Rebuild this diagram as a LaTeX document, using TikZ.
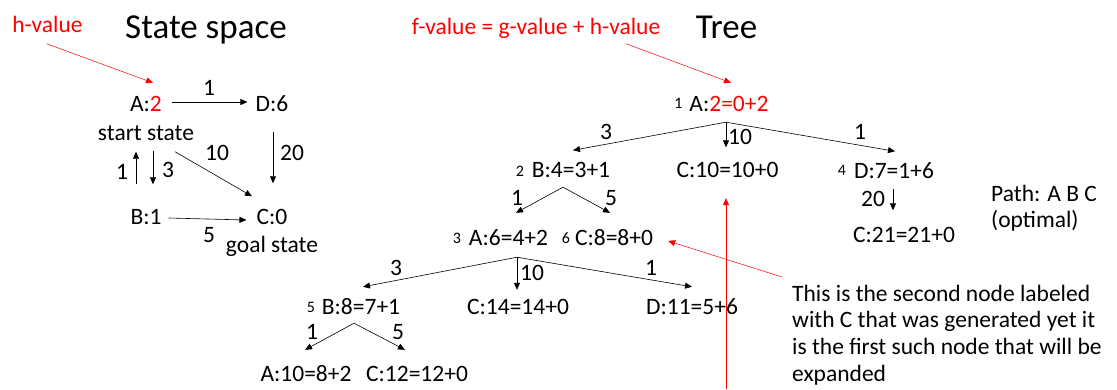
\documentclass[tikz,border=0pt]{standalone}
\usepackage{fontspec}
\setmainfont{Carlito}
\usetikzlibrary{arrows.meta}

\begin{document}
\begin{tikzpicture}[x=1pt,y=-1pt,
  lab/.style={font=\fontsize{23.5}{28}\selectfont, inner sep=0pt, text height=15pt, text depth=0pt},
  ttl/.style={font=\fontsize{35}{42}\selectfont, inner sep=0pt, text height=22.5pt, text depth=0pt},
  ord/.style={font=\fontsize{16}{19}\selectfont, inner sep=0pt, text height=10pt, text depth=0pt},
  note/.style={font=\fontsize{23.5}{26.7}\selectfont, inner sep=0pt, align=left, anchor=north west},
  arr/.style={-{Triangle[length=7pt,width=6pt]}, line width=0.6pt},
  redarr/.style={-{Triangle[length=7pt,width=6pt]}, red, line width=0.5pt}]
\useasboundingbox (0,0) rectangle (1117,389);

\node [ttl] (ssTitle) at (206,27.5) {State space};
\node [ttl] (treeTitle) at (726.5,27) {Tree};
\node [lab,red] (hval) at (47.5,24.5) {h-value};
\node [lab,red] (fval) at (536,26.5) {f-value = g-value + h-value};

\node [lab] (sA) at (146,104) {A:\textcolor{red}{2}};
\node [lab] (sD) at (272,104) {D:6};
\node [lab] (sStart) at (146,133) {start state};
\node [lab] (sB) at (146,217) {B:1};
\node [lab] (sC) at (272,217) {C:0};
\node [lab] (sGoal) at (272,245) {goal state};

\node [lab] (lAD) at (209,88) {1};
\node [lab] (lBA) at (122,172) {1};
\node [lab] (lAB) at (168,170) {3};
\node [lab] (lAC) at (217,153) {10};
\node [lab] (lDC) at (292,153) {20};
\node [lab] (lBC) at (209,235) {5};

\draw [arr] ([shift={(10,-2)}]sA.east) -- ([shift={(-8,-2)}]sD.west);
\draw [arr] ([shift={(-10,-25)}]sB.north) -- ([shift={(-10,11)}]sStart.south);
\draw [arr] ([shift={(7,10)}]sStart.south) -- ([shift={(7,-25)}]sB.north);
\draw [arr] ([shift={(29,11)}]sStart.south) -- ([shift={(-20,-13)}]sC.north);
\draw [arr] ([shift={(1,20)}]sD.south) -- ([shift={(1,-26)}]sC.north);
\draw [arr] ([shift={(7,1)}]sB.east) -- ([shift={(-10,3)}]sC.west);
\draw [redarr] ([shift={(-1,11.5)}]hval.south) -- ([shift={(7,-13.5)}]sA.north);

\node [lab] (t1) at (729,103.5) {A:\textcolor{red}{2=0+2}};
\node [lab] (t2) at (571,170) {B:4=3+1};
\node [lab] (t3) at (727.5,170) {C:10=10+0};
\node [lab] (t4) at (894,171) {D:7=1+6};
\node [lab] (t5) at (904,235) {C:21=21+0};
\node [lab] (t6) at (508.5,237.5) {A:6=4+2};
\node [lab] (t7) at (614,237.5) {C:8=8+0};
\node [lab] (t8) at (361,307) {B:8=7+1};
\node [lab] (t9) at (518,307) {C:14=14+0};
\node [lab] (t10) at (692,307) {D:11=5+6};
\node [lab] (t11) at (306,373.5) {A:10=8+2};
\node [lab] (t12) at (417,373.5) {C:12=12+0};

\node [ord] (o1) at (678.5,103.5) {1};
\node [ord] (o2) at (520,171.5) {2};
\node [ord] (o4) at (842,170.5) {4};
\node [ord] (o3) at (457,238) {3};
\node [ord] (o6) at (566,238) {6};
\node [ord] (o5) at (311,307) {5};

\node [lab] (l12) at (606,132) {3};
\node [lab] (l13) at (740,137) {10};
\node [lab] (l14) at (860,132) {1};
\node [lab] (l45) at (873,199) {20};
\node [lab] (l26) at (517,198) {1};
\node [lab] (l27) at (611,198) {5};
\node [lab] (l68) at (396,268) {3};
\node [lab] (l69) at (532,273) {10};
\node [lab] (l610) at (651,268) {1};
\node [lab] (l811) at (312,332) {1};
\node [lab] (l812) at (398,332) {5};

\coordinate (r1) at ([shift={(-3,11)}]t1.south);
\draw [arr] (r1) -- ([shift={(2,-12)}]t2.north);
\draw [arr] (r1) -- ([shift={(-1.5,-15)}]t3.north);
\draw [arr] (r1) -- ([shift={(1,-12)}]t4.north);
\draw [arr] ([shift={(-1,10.5)}]t4.south) -- ([shift={(-11,-17)}]t5.north);
\coordinate (r2) at ([shift={(-8,9.5)}]t2.south);
\draw [arr] (r2) -- ([shift={(7.5,-17)}]t6.north);
\draw [arr] (r2) -- ([shift={(-4,-17)}]t7.north);
\coordinate (r6) at ([shift={(8.5,12)}]t6.south);
\draw [arr] (r6) -- ([shift={(2,-12.5)}]t8.north);
\draw [arr] (r6) -- ([shift={(-1,-9.5)}]t9.north);
\draw [arr] (r6) -- ([shift={(0,-12.5)}]t10.north);
\coordinate (r8) at ([shift={(-7,8.5)}]t8.south);
\draw [arr] (r8) -- ([shift={(-1,-16)}]t11.north);
\draw [arr] (r8) -- ([shift={(-12,-16)}]t12.north);

\node [note] (path) at (991,184.5) {Path: A B C\\(optimal)};
\node [note] (remark) at (792,284.5) {This is the second node labeled\\with C that was generated yet it\\is the first such node that will be\\expanded};

\draw [redarr] ([shift={(90,9.5)}]fval.south) -- ([shift={(2,-13)}]t1.north);
\coordinate (redBottom) at (726,389);
\draw [redarr] (redBottom) -- ([shift={(-1.5,20.5)}]t3.south);
\draw [redarr] ([shift={(-10,-7.5)}]remark.north west) -- ([shift={(15,3.5)}]t7.east);
\end{tikzpicture}
\end{document}
